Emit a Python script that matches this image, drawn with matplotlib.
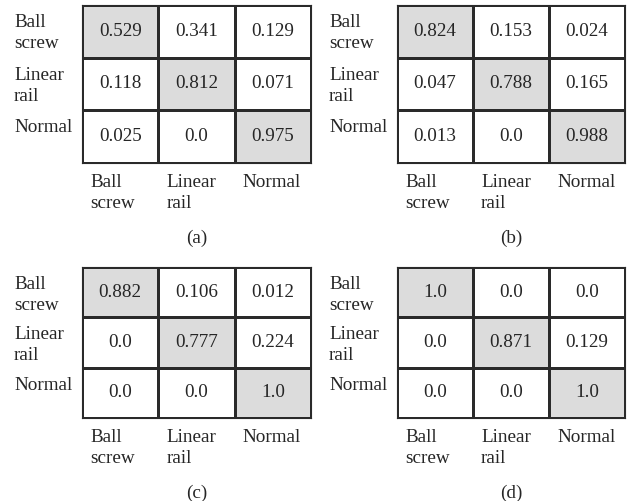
import numpy as np
import matplotlib
matplotlib.use("Agg")
import matplotlib.pyplot as plt
from matplotlib.colors import ListedColormap
from matplotlib.transforms import offset_copy, blended_transform_factory

plt.rcParams["font.family"] = ["Liberation Serif", "DejaVu Serif"]

classes = ["Ball\nscrew", "Linear\nrail", "Normal"]
panel_tags = ["(a)", "(b)", "(c)", "(d)"]

cm_a = [[0.529, 0.341, 0.129],
        [0.118, 0.812, 0.071],
        [0.025, 0.0, 0.975]]
cm_b = [[0.824, 0.153, 0.024],
        [0.047, 0.788, 0.165],
        [0.013, 0.0, 0.988]]
cm_c = [[0.882, 0.106, 0.012],
        [0.0, 0.777, 0.224],
        [0.0, 0.0, 1.0]]
cm_d = [[1.0, 0.0, 0.0],
        [0.0, 0.871, 0.129],
        [0.0, 0.0, 1.0]]
matrices = [cm_a, cm_b, cm_c, cm_d]

W, H, DPI = 627, 501, 100
fig = plt.figure(figsize=(W / DPI, H / DPI), dpi=DPI)
fig.patch.set_facecolor("white")

# grid boxes in pixels: left, top, right, bottom
boxes = [(82, 5, 311, 163), (397, 5, 625, 163),
         (82, 267, 311, 418), (397, 267, 625, 418)]

FS = 13.8
TXT = "#262626"
EDGE = "#2a2a2a"
LW = 0.8
cmap = ListedColormap(["white", "#dcdcdc"])

for cm, tag, (l, t, r, b) in zip(matrices, panel_tags, boxes):
    ax = fig.add_axes([l / W, 1 - b / H, (r - l) / W, (b - t) / H])
    vals = np.array(cm)
    n = vals.shape[0]
    diag = np.eye(n)
    ax.pcolormesh(np.arange(n + 1), np.arange(n + 1), diag, cmap=cmap,
                  vmin=0, vmax=1, edgecolors=EDGE, linewidth=LW)
    ax.set_xlim(0, n)
    ax.set_ylim(n, 0)
    ax.set_xticks([])
    ax.set_yticks([])
    for s in ax.spines.values():
        s.set_color(EDGE)
        s.set_linewidth(LW)

    for i in range(n):
        for j in range(n):
            ax.text(j + 0.5, i + 0.5, str(vals[i, j]),
                    ha="center", va="center", fontsize=FS, color=TXT)

    # row labels, left-aligned outside the grid, hanging from the row top
    row_tr = offset_copy(blended_transform_factory(ax.transAxes, ax.transData),
                         fig=fig, x=-68, y=-9, units="dots")
    for i, name in enumerate(classes):
        ax.text(0, i, name, transform=row_tr, ha="left", va="top",
                fontsize=FS, color=TXT, linespacing=1.3)

    # column labels below the grid
    col_tr = offset_copy(blended_transform_factory(ax.transData, ax.transAxes),
                         fig=fig, x=8, y=-11, units="dots")
    for j, name in enumerate(classes):
        ax.text(j, 0, name, transform=col_tr, ha="left", va="top",
                fontsize=FS, color=TXT, linespacing=1.3)

    cap_tr = offset_copy(ax.transAxes, fig=fig, x=0, y=-75, units="dots")
    ax.text(0.5, 0, tag, transform=cap_tr, ha="center", va="center",
            fontsize=FS, color=TXT)

fig.savefig("out.png", dpi=DPI)
